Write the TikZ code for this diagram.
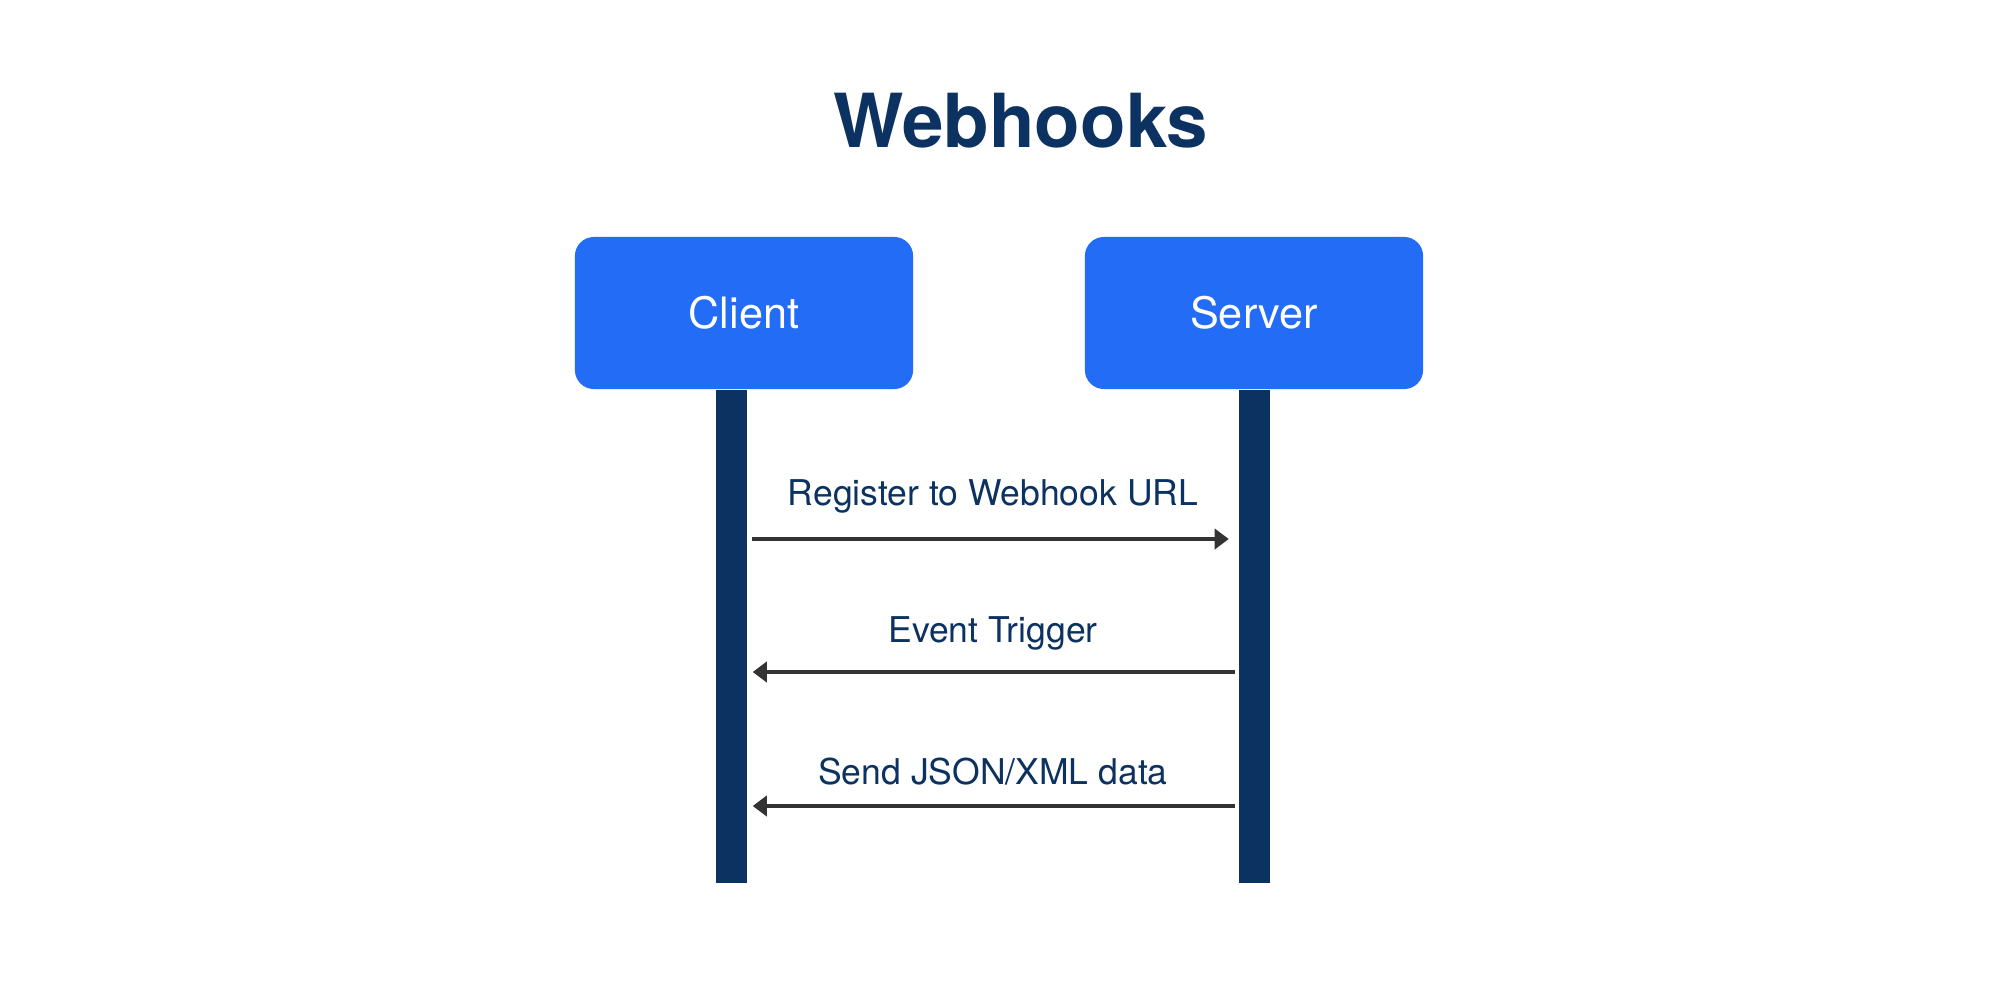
\documentclass[tikz,border=0pt]{standalone}
\usepackage{fontspec}
\setmainfont{TeX Gyre Heros}
\usetikzlibrary{arrows.meta,calc}
\definecolor{navy}{HTML}{0B3260}
\definecolor{boxblue}{HTML}{236CF5}
\definecolor{arrowgray}{HTML}{333333}
\begin{document}
\begin{tikzpicture}[x=0.01cm,y=-0.01cm,
  actor/.style={draw=none,fill=boxblue,rounded corners=5.4pt,minimum width=3.38cm,minimum height=1.52cm,inner sep=0pt,text=white,font=\fontsize{12.3}{14}\selectfont},
  lifeline/.style={fill=navy,draw=none,minimum width=0.31cm,minimum height=4.92cm,inner sep=0pt,anchor=north},
  msg/.style={draw=arrowgray,line width=1.14pt,-{Triangle[length=4pt,width=5.7pt]}},
  lbl/.style={text=navy,anchor=base,font=\fontsize{10.1}{12}\selectfont,inner sep=0pt},
  titlestyle/.style={text=navy,anchor=base,font=\fontsize{21.2}{25}\selectfont\bfseries,inner sep=0pt}]
\useasboundingbox[fill=white] (0,0) rectangle (2000,1000);
\node[titlestyle] (title) at (1021,147) {Webhooks};
\node[actor] (client) at (744,313) {Client};
\node[actor] (server) at (1254,313) {Server};
\node[lifeline] (cbar) at ($(client.south)+(-12.5,0)$) {};
\node[lifeline] (sbar) at (server.south) {};
\coordinate (y1) at (0,539);
\coordinate (y2) at (0,672);
\coordinate (y3) at (0,806);
\draw[msg,shorten <=0.4mm,shorten >=0.9mm] (cbar.east |- y1) -- (sbar.west |- y1);
\draw[msg,shorten <=0.3mm,shorten >=0.5mm] (sbar.west |- y2) -- (cbar.east |- y2);
\draw[msg,shorten <=0.3mm,shorten >=0.5mm] (sbar.west |- y3) -- (cbar.east |- y3);
\node[lbl] (l1) at (993,505) {Register to Webhook URL};
\node[lbl] (l2) at (993,642) {Event Trigger};
\node[lbl] (l3) at (993,784) {Send JSON/XML data};
\end{tikzpicture}
\end{document}
